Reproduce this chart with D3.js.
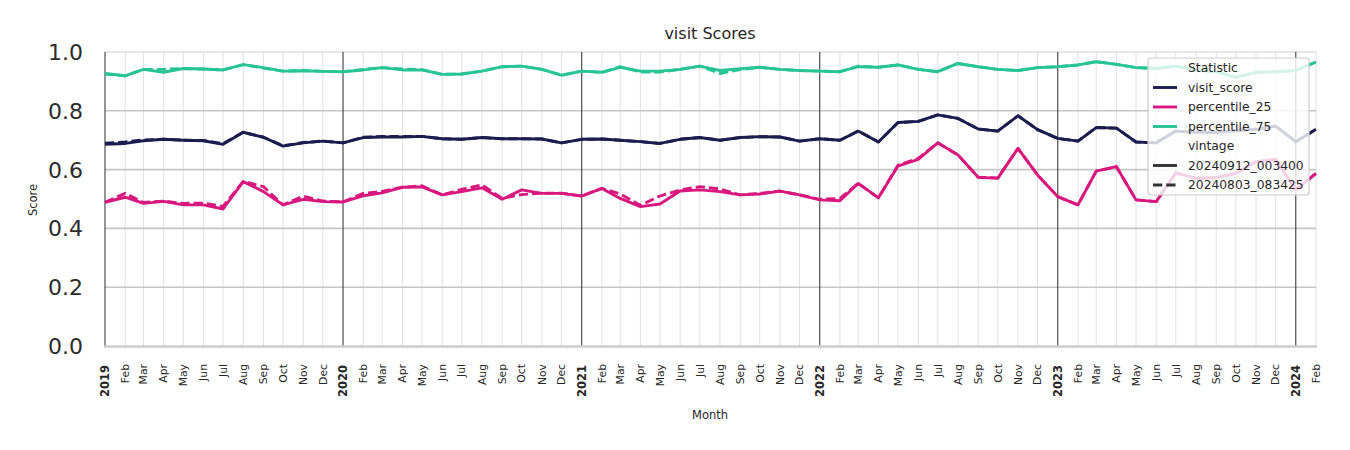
<!DOCTYPE html>
<html><head><meta charset="utf-8">
<script src="https://cdn.jsdelivr.net/npm/d3@7"></script>
<style>
body{margin:0;background:#fff;}
text{font-family:"DejaVu Sans",sans-serif;fill:#262626;}
</style>
</head><body>
<svg id="c" width="1350" height="450"></svg>
<script>
// ---- data ----
const firstMonth = new Date(2019, 0, 1);
const lastMonth = new Date(2024, 1, 1);
const monthNames = ["Jan","Feb","Mar","Apr","May","Jun","Jul","Aug","Sep","Oct","Nov","Dec"];
const yTicks = [0.0, 0.2, 0.4, 0.6, 0.8, 1.0];
const statistics = ["visit_score", "percentile_25", "percentile_75"];
const vintages = ["20240912_003400", "20240803_083425"];

// vintage 20240912_003400 (solid)
const visitScoreNew = [
  0.686,0.689,0.698,0.703,0.700,0.698,0.686,0.727,0.710,0.680,0.691,0.697,
  0.691,0.709,0.711,0.711,0.713,0.705,0.703,0.709,0.705,0.705,0.704,0.691,
  0.703,0.704,0.700,0.695,0.689,0.703,0.709,0.700,0.709,0.712,0.711,0.697,
  0.705,0.700,0.731,0.694,0.760,0.764,0.786,0.774,0.738,0.731,0.783,0.736,
  0.706,0.697,0.743,0.741,0.694,0.691,0.731,0.727,0.726,0.733,0.737,0.748,
  0.695,0.737];
const p25New = [
  0.489,0.506,0.485,0.492,0.480,0.480,0.466,0.559,0.525,0.480,0.499,0.491,
  0.490,0.511,0.521,0.540,0.541,0.514,0.525,0.538,0.499,0.531,0.519,0.519,
  0.510,0.536,0.502,0.474,0.483,0.527,0.531,0.525,0.514,0.517,0.527,0.514,
  0.497,0.494,0.553,0.504,0.612,0.635,0.691,0.650,0.574,0.570,0.672,0.582,
  0.508,0.480,0.595,0.610,0.497,0.491,0.589,0.570,0.573,0.587,0.627,0.635,
  0.531,0.587];
const p75New = [
  0.927,0.919,0.941,0.931,0.944,0.942,0.939,0.957,0.947,0.935,0.936,0.934,
  0.933,0.939,0.947,0.939,0.939,0.924,0.925,0.935,0.950,0.952,0.941,0.921,
  0.935,0.931,0.948,0.935,0.935,0.941,0.952,0.937,0.943,0.948,0.941,0.937,
  0.935,0.933,0.950,0.948,0.956,0.941,0.933,0.961,0.950,0.941,0.937,0.947,
  0.950,0.956,0.967,0.958,0.947,0.944,0.952,0.939,0.933,0.914,0.931,0.933,
  0.937,0.966];

// vintage 20240803_083425 (dashed)
const visitScoreOld = [
  0.690,0.694,0.701,0.703,0.700,0.699,0.688,0.727,0.710,0.681,0.692,0.697,
  0.691,0.710,0.713,0.713,0.713,0.705,0.703,0.709,0.705,0.705,0.704,0.691,
  0.703,0.704,0.700,0.695,0.689,0.703,0.709,0.700,0.709,0.712,0.711,0.697,
  0.705,0.700,0.731,0.694,0.760,0.764,0.786,0.774,0.738,0.731,0.783,0.736,
  0.706,0.697,0.743,0.741,0.694,0.691,0.731,0.727,0.726,0.733,0.737,0.748,
  0.695,0.737];
const p25Old = [
  0.489,0.519,0.488,0.493,0.485,0.486,0.475,0.560,0.542,0.480,0.510,0.493,
  0.490,0.519,0.526,0.540,0.545,0.514,0.533,0.548,0.502,0.515,0.520,0.520,
  0.510,0.536,0.517,0.479,0.510,0.531,0.542,0.534,0.514,0.519,0.527,0.514,
  0.499,0.502,0.553,0.504,0.615,0.638,0.691,0.650,0.574,0.572,0.672,0.582,
  0.508,0.480,0.595,0.610,0.497,0.491,0.589,0.570,0.573,0.587,0.627,0.635,
  0.531,0.587];
const p75Old = [
  0.925,0.919,0.941,0.941,0.944,0.942,0.939,0.957,0.945,0.935,0.937,0.934,
  0.933,0.941,0.947,0.942,0.940,0.924,0.925,0.935,0.950,0.952,0.941,0.921,
  0.935,0.931,0.950,0.932,0.932,0.941,0.952,0.927,0.940,0.948,0.941,0.937,
  0.935,0.933,0.952,0.948,0.956,0.941,0.933,0.961,0.950,0.941,0.937,0.947,
  0.950,0.956,0.967,0.958,0.947,0.944,0.952,0.939,0.933,0.914,0.931,0.933,
  0.937,0.966];

const colors = {visit_score: "#1c1d4f", percentile_25: "#d8187f", percentile_75: "#27c495"};
const dashes = {"20240912_003400": null, "20240803_083425": "9.25,4"};

// ---- chart ----
const months = d3.timeMonth.range(firstMonth, d3.timeMonth.offset(lastMonth, 1));
const m = {left: 105, right: 1316, top: 52, bottom: 346};
const svg = d3.select("#c");
const x = d3.scaleTime().domain([firstMonth, lastMonth]).range([m.left, m.right]);
const y = d3.scaleLinear().domain([0, 1]).range([m.bottom, m.top]);

const grid = svg.append("g");
grid.selectAll("line.mm").data(months.filter(d => d.getMonth() !== 0)).enter()
  .append("line").attr("x1", d => x(d)).attr("x2", d => x(d))
  .attr("y1", m.top).attr("y2", m.bottom)
  .attr("stroke", "#dcdcdc").attr("stroke-width", 0.9);
grid.selectAll("line.hg").data(yTicks.filter(v => v > 0 && v < 1)).enter()
  .append("line").attr("x1", m.left).attr("x2", m.right)
  .attr("y1", d => y(d)).attr("y2", d => y(d))
  .attr("stroke", "#c6c6c6").attr("stroke-width", 1.6);
grid.append("line").attr("x1", m.left).attr("x2", m.right)
  .attr("y1", y(1)).attr("y2", y(1)).attr("stroke", "#cfcfcf").attr("stroke-width", 1);
grid.selectAll("line.yl").data(months.filter(d => d.getMonth() === 0)).enter()
  .append("line").attr("x1", d => x(d)).attr("x2", d => x(d))
  .attr("y1", m.top).attr("y2", m.bottom)
  .attr("stroke", "#3d3d3d").attr("stroke-width", 1.1);
grid.append("line").attr("x1", m.left - 1).attr("x2", m.right + 1)
  .attr("y1", y(0) + 0.5).attr("y2", y(0) + 0.5).attr("stroke", "#cccccc").attr("stroke-width", 2.6);

svg.append("g").selectAll("text").data(yTicks).enter().append("text")
  .attr("x", 83).attr("y", d => y(d)).attr("dy", "0.36em")
  .attr("text-anchor", "end").style("font-size", "22px").style("fill", "#2b2b2b")
  .text(d => d.toFixed(1));

svg.append("g").selectAll("text").data(months).enter().append("text")
  .attr("transform", d => `translate(${x(d)},${d.getMonth() === 0 ? 365 : 364}) rotate(-90)`)
  .attr("text-anchor", "end").attr("dy", "0.35em")
  .style("font-size", d => d.getMonth() === 0 ? "11.5px" : "10.8px")
  .style("font-weight", d => d.getMonth() === 0 ? "bold" : "normal")
  .text(d => d.getMonth() === 0 ? d.getFullYear() : monthNames[d.getMonth()]);

svg.append("text").attr("x", 710).attr("y", 419).attr("text-anchor", "middle")
  .style("font-size", "11.5px").text("Month");
svg.append("text").attr("transform", "translate(37,200) rotate(-90)").attr("text-anchor", "middle")
  .style("font-size", "11.5px").text("Score");
svg.append("text").attr("x", 710).attr("y", 39).attr("text-anchor", "middle")
  .style("font-size", "16px").text("visit Scores");

const series = [
  {stat: "visit_score", vintage: vintages[0], values: visitScoreNew},
  {stat: "percentile_25", vintage: vintages[0], values: p25New},
  {stat: "percentile_75", vintage: vintages[0], values: p75New},
  {stat: "visit_score", vintage: vintages[1], values: visitScoreOld},
  {stat: "percentile_25", vintage: vintages[1], values: p25Old},
  {stat: "percentile_75", vintage: vintages[1], values: p75Old}
];
const line = d3.line().x((d, i) => x(months[i])).y(d => y(d));
svg.append("g").selectAll("path").data(series).enter().append("path")
  .attr("d", d => line(d.values))
  .attr("fill", "none").attr("stroke", d => colors[d.stat])
  .attr("stroke-width", 2.9).attr("stroke-linejoin", "round")
  .attr("stroke-dasharray", d => dashes[d.vintage]);

const lg = svg.append("g");
lg.append("rect").attr("x", 1148).attr("y", 58).attr("width", 161).attr("height", 137)
  .attr("rx", 3).attr("fill", "white").attr("fill-opacity", 0.8)
  .attr("stroke", "#cccccc").attr("stroke-width", 1.2);
const entries = [
  {label: "Statistic", header: true},
  ...statistics.map(s => ({label: s, color: colors[s], dash: null})),
  {label: "vintage", header: true},
  ...vintages.map(v => ({label: v, color: "#333333", dash: dashes[v]}))
];
const rowY = d3.scaleLinear().domain([0, entries.length - 1]).range([68, 185]);
entries.forEach((e, i) => {
  const yy = rowY(i);
  if (!e.header) {
    lg.append("line").attr("x1", 1153).attr("x2", 1177).attr("y1", yy).attr("y2", yy)
      .attr("stroke", e.color).attr("stroke-width", 2.9).attr("stroke-dasharray", e.dash);
  }
  lg.append("text").attr("x", 1188).attr("y", yy).attr("dy", "0.35em")
    .style("font-size", "12.3px").text(e.label);
});
</script>
</body></html>
